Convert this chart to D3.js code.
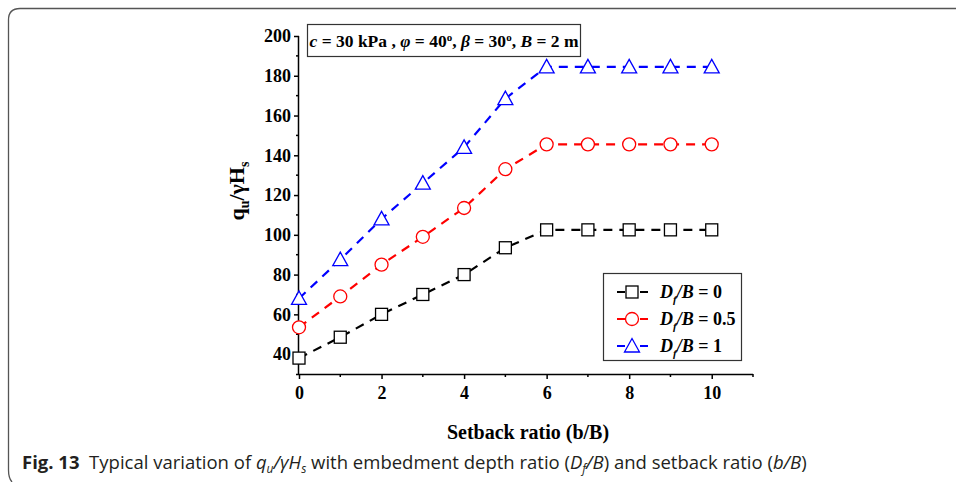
<!DOCTYPE html>
<html>
<head>
<meta charset="utf-8">
<script src="https://cdn.jsdelivr.net/npm/d3@7"></script>
<style>
  body { margin: 0; background: #fff; }
  svg { display: block; }
</style>
</head>
<body>
<div id="chart"></div>
<script>
// dados
const setback = [0, 1, 2, 3, 4, 5, 6, 7, 8, 9, 10];
const dfb0 = [38, 48.5, 60, 70, 80, 93.5, 102.5, 102.5, 102.5, 102.5, 102.5];
const dfb05 = [53.5, 69, 85, 99, 113.5, 133, 145.5, 145.5, 145.5, 145.5, 145.5];
const dfb1 = [68, 87.5, 108, 126, 144, 168.5, 184.5, 184.5, 184.5, 184.5, 184.5];
const legendLabels = ["0", "0.5", "1"];
const xTicks = [0, 2, 4, 6, 8, 10];
const yTicks = [40, 60, 80, 100, 120, 140, 160, 180, 200];

const W = 956, H = 482;
const svg = d3.select("#chart").append("svg")
    .attr("width", W)
    .attr("height", H);

// moldura da figura (canto arredondado)
svg.append("path")
    .attr("d", "M956,8.5 H20 Q8.5,8.5 8.5,20 V470 Q8.5,478 12,482")
    .attr("fill", "none")
    .attr("stroke", "#555")
    .attr("stroke-width", 1.3);

// escalas
const x = d3.scaleLinear().domain([0, 11]).range([299, 753]);
const y = d3.scaleLinear().domain([30, 200]).range([374, 36]);

const serif = "Liberation Serif, Times New Roman, serif";

// eixo x
const xAxis = svg.append("g")
    .attr("transform", `translate(0,${y(30)})`)
    .call(d3.axisBottom(x).tickValues(xTicks).tickSize(5).tickSizeOuter(0).tickPadding(7).tickFormat(d3.format("d")));
xAxis.select(".domain").attr("d", `M${x(0) - 3},0.5H${x(11)}`).attr("stroke-width", 1.5);
svg.append("g")
    .attr("transform", `translate(0,${y(30)})`)
    .selectAll("line")
    .data(d3.range(1, 12, 2))
    .join("line")
    .attr("x1", d => x(d)).attr("x2", d => x(d))
    .attr("y1", 0).attr("y2", 3)
    .attr("stroke", "#000").attr("stroke-width", 1.5);

// eixo y
const yAxis = svg.append("g")
    .attr("transform", `translate(${x(0)},0)`)
    .call(d3.axisLeft(y).tickValues(yTicks).tickSize(5).tickSizeOuter(0).tickPadding(3));
yAxis.select(".domain").attr("d", `M-0.5,${y(200)}V${y(30)}`).attr("stroke-width", 1.5);
svg.append("g")
    .attr("transform", `translate(${x(0)},0)`)
    .selectAll("line")
    .data(d3.range(50, 200, 20))
    .join("line")
    .attr("x1", 0).attr("x2", -3)
    .attr("y1", d => y(d)).attr("y2", d => y(d))
    .attr("stroke", "#000").attr("stroke-width", 1.5);
svg.selectAll(".tick line").attr("stroke-width", 1.5);
svg.selectAll(".tick text")
    .attr("font-family", serif)
    .attr("font-weight", "bold")
    .attr("font-size", 18);

// títulos dos eixos
svg.append("text")
    .attr("x", 528)
    .attr("y", 439)
    .attr("text-anchor", "middle")
    .style("font-family", serif)
    .style("font-weight", "bold")
    .style("font-size", "20px")
    .text("Setback ratio (b/B)");

const yLabel = svg.append("text")
    .attr("transform", `translate(244,${y(122)}) rotate(-90)`)
    .attr("text-anchor", "middle")
    .style("font-family", serif)
    .style("font-weight", "bold")
    .style("font-size", "22px");
yLabel.append("tspan").text("q");
yLabel.append("tspan").attr("dy", 5).style("font-size", "14px").text("u");
yLabel.append("tspan").attr("dy", -5).text("/γH");
yLabel.append("tspan").attr("dy", 5).style("font-size", "14px").text("s");

// séries
const series = [
    {values: dfb0, color: "#000000", shape: "square"},
    {values: dfb05, color: "#ff0000", shape: "circle"},
    {values: dfb1, color: "#0000ff", shape: "triangle"}
];

function drawMarker(g, shape, color) {
    if (shape === "square") {
        g.append("rect").attr("x", -6).attr("y", -6).attr("width", 12).attr("height", 12);
    } else if (shape === "circle") {
        g.append("circle").attr("r", 6.5);
    } else {
        g.append("path").attr("d", "M0,-7.5L7.5,6L-7.5,6Z");
    }
    g.selectAll("*").attr("fill", "#fff").attr("stroke", color).attr("stroke-width", 1.3);
}

const line = d3.line().x((d, i) => x(setback[i])).y(d => y(d));

series.forEach(s => {
    svg.append("path")
        .datum(s.values)
        .attr("d", line)
        .attr("fill", "none")
        .attr("stroke", s.color)
        .attr("stroke-width", 2.2)
        .attr("stroke-dasharray", "9,7");
    s.values.forEach((v, i) => {
        const g = svg.append("g").attr("transform", `translate(${x(setback[i])},${y(v)})`);
        drawMarker(g, s.shape, s.color);
    });
});

// caixa de parâmetros
svg.append("rect")
    .attr("x", 307.5).attr("y", 24.5)
    .attr("width", 273).attr("height", 32)
    .attr("fill", "#fff").attr("stroke", "#333").attr("stroke-width", 1.2);
const info = svg.append("text")
    .attr("x", 444).attr("y", 47)
    .attr("text-anchor", "middle")
    .style("font-family", serif)
    .style("font-weight", "bold")
    .style("font-size", "17.5px");
info.append("tspan").style("font-style", "italic").text("c");
info.append("tspan").text(" = 30 kPa , ");
info.append("tspan").style("font-style", "italic").text("φ");
info.append("tspan").text(" = 40");
info.append("tspan").attr("dy", -6).style("font-size", "11px").text("o");
info.append("tspan").attr("dy", 6).text(", ");
info.append("tspan").style("font-style", "italic").text("β");
info.append("tspan").text(" = 30");
info.append("tspan").attr("dy", -6).style("font-size", "11px").text("o");
info.append("tspan").attr("dy", 6).text(", ");
info.append("tspan").style("font-style", "italic").text("B");
info.append("tspan").text(" = 2 m");

// legenda
svg.append("rect")
    .attr("x", 603.5).attr("y", 273.5)
    .attr("width", 138).attr("height", 87)
    .attr("fill", "#fff").attr("stroke", "#333").attr("stroke-width", 1.2);
series.forEach((s, i) => {
    const ly = 292 + i * 27;
    svg.append("line")
        .attr("x1", 617).attr("x2", 648)
        .attr("y1", ly).attr("y2", ly)
        .attr("stroke", s.color).attr("stroke-width", 2.2)
        .attr("stroke-dasharray", "8,15");
    const g = svg.append("g").attr("transform", `translate(632,${ly})`);
    drawMarker(g, s.shape, s.color);
    const t = svg.append("text")
        .attr("x", 660).attr("y", ly + 6)
        .style("font-family", serif)
        .style("font-weight", "bold")
        .style("font-size", "18px");
    t.append("tspan").style("font-style", "italic").text("D");
    t.append("tspan").attr("dy", 5).style("font-size", "11px").style("font-style", "italic").text("f");
    t.append("tspan").attr("dy", -5).style("font-style", "italic").text("/B");
    t.append("tspan").text(" = " + legendLabels[i]);
});

// legenda da figura
const cap = svg.append("text")
    .attr("x", 22).attr("y", 469)
    .style("font-family", "Open Sans, sans-serif")
    .style("font-size", "18.5px")
    .attr("fill", "#231f20");
cap.append("tspan").style("font-weight", "bold").text("Fig. 13");
cap.append("tspan").text("\u00a0\u00a0Typical variation of ");
cap.append("tspan").style("font-style", "italic").text("q");
cap.append("tspan").attr("dy", 4).style("font-size", "12px").style("font-style", "italic").text("u");
cap.append("tspan").attr("dy", -4).style("font-style", "italic").text("/γH");
cap.append("tspan").attr("dy", 4).style("font-size", "12px").style("font-style", "italic").text("s");
cap.append("tspan").attr("dy", -4).text(" with embedment depth ratio (");
cap.append("tspan").style("font-style", "italic").text("D");
cap.append("tspan").attr("dy", 4).style("font-size", "12px").style("font-style", "italic").text("f");
cap.append("tspan").attr("dy", -4).style("font-style", "italic").text("/B");
cap.append("tspan").text(") and setback ratio (");
cap.append("tspan").style("font-style", "italic").text("b/B");
cap.append("tspan").text(")");
</script>
</body>
</html>
